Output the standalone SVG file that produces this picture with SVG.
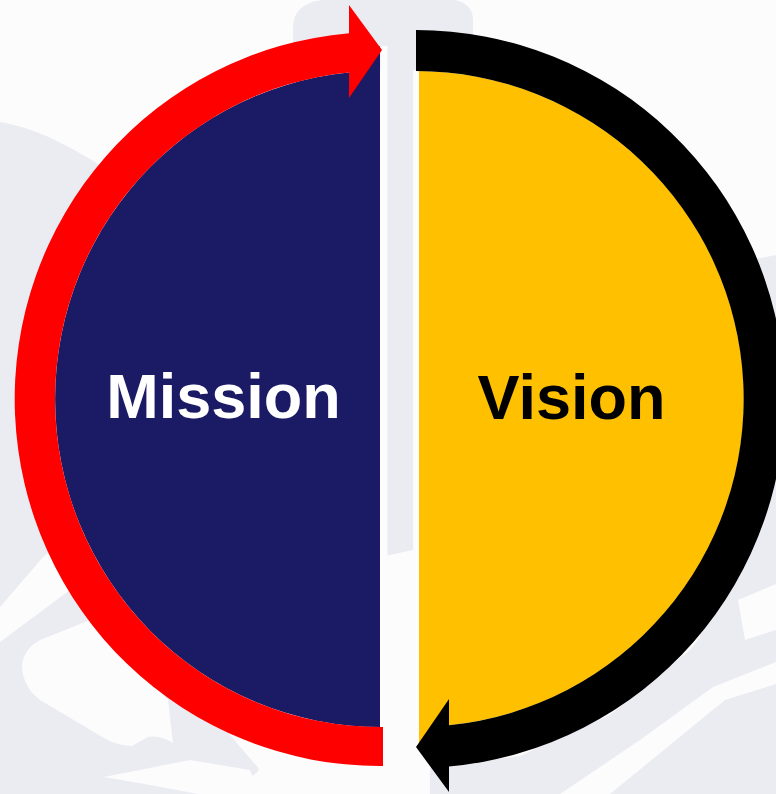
<svg xmlns="http://www.w3.org/2000/svg" width="776" height="794" viewBox="0 0 776 794">
  <style>
    .bg { fill: #fcfcfd; }
    .wm { fill: #ebebf2; }
    .label { font-family: "Liberation Sans", Arial, sans-serif; font-weight: bold; font-size: 63px; text-anchor: middle; }
  </style>
  <g id="background">
    <rect class="bg" x="0" y="0" width="776" height="794"/>
    <!-- faint watermark shapes -->
    <path class="wm" d="M293,70 L293,28 Q293,4 322,0 L455,0 Q473,4 473,20 L473,70 Z"/>
    <path class="wm" d="M385,40 L413,40 L413,550 L385,556 Z"/>
    <path class="wm" d="M0,122 C35,128 70,145 110,172 L110,500 L43,557 L0,607 Z"/>
    <path class="wm" d="M0,642 L70,590 L120,600 L200,700 L260,770 L230,794 L0,794 Z"/>
    <path class="bg" d="M22,668 Q22,650 40,640 L90,620 L168,700 L173,743 Q160,735 148,737 L132,746 Q118,746 104,738 L40,700 Q24,688 22,668 Z"/>
    <path class="bg" d="M198,794 L150,785 L104,777 L190,760 L250,770 L260,794 Z"/>
    <path class="wm" d="M740,262 L776,255 L776,794 L700,794 L700,262 Z"/>
    <path class="wm" d="M430,794 L430,768 L520,756 L610,715 L690,650 L730,600 L776,590 L776,794 Z"/>
    <path class="bg" d="M560,794 L640,740 L713,687 L776,662 L776,684 L725,700 L610,794 Z"/>
    <path class="bg" d="M738,600 L776,584 L776,630 L745,640 Z"/>
    <path class="bg" d="M250,794 L260,765 L346,772 L370,794 Z"/>
  </g>
  <g id="node-mission">
    <path fill="#1b1a65" d="M380,71 A325,328 0 0 0 380,727 Z"/>
    <path fill="#1b1a65" d="M355,76 L355,62 L380,46 L380,76 Z"/>
    <rect fill="#fcfcfd" x="380.5" y="46" width="7" height="690"/>
    <text class="label" x="223.5" y="418" fill="#ffffff">Mission</text>
  </g>
  <g id="node-vision">
    <path fill="#ffc000" d="M419,71 A328,328 0 0 1 449,725.3 L449,740 L419,745 Z"/>
    <rect fill="#fcfcfd" x="413" y="71" width="6" height="680"/>
    <text class="label" x="571.5" y="419" fill="#000000">Vision</text>
  </g>
  <g id="connectors">
    <path id="arrow-mission-to-vision" fill="#ff0000" d="M383,766 L380,766 A365,367 0 0 1 349,33.3 L349,5 L382,50 L349,98 L349,72.5 A325,328 0 0 0 380,727 L383,727 Z"/>
    <path id="arrow-vision-to-mission" fill="#000000" d="M416,30 A369,369 0 0 1 449,766.5 L449,792 L416,747 L449,699 L449,725.3 A328,328 0 0 0 416,71 Z"/>
  </g>
</svg>
